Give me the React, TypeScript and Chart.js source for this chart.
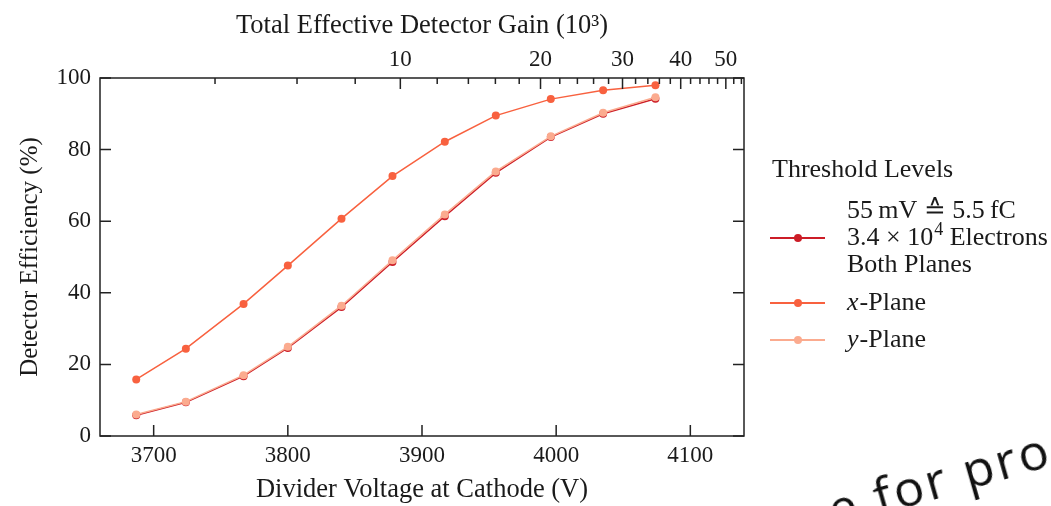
import React, { useEffect, useRef } from 'react';
import { Chart, registerables } from 'chart.js';

Chart.register(...registerables);

// ---- data ----
const voltages = [3687, 3724, 3767, 3800, 3840, 3878, 3917, 3955, 3996, 4035, 4074];
const bothPlanes = [5.8, 9.4, 16.7, 24.6, 36.0, 48.6, 61.4, 73.5, 83.5, 90.0, 94.2];
const xPlane = [15.8, 24.4, 36.9, 47.6, 60.7, 72.6, 82.2, 89.5, 94.1, 96.6, 98.0];
const yPlane = [6.0, 9.6, 17.0, 24.9, 36.4, 49.1, 61.9, 73.9, 83.7, 90.3, 94.6];

const voltageTicks = [3700, 3800, 3900, 4000, 4100];
const efficiencyTicks = [0, 20, 40, 60, 80, 100];
const gainMajorTicks = [10, 20, 30, 40, 50];
const gainMinorTicks = [4, 6, 8, 12, 14, 16, 18, 22, 24, 26, 28, 32, 34, 36, 38, 42, 44, 46, 48, 52, 54];

const seriesLabels = ['Both Planes', 'x-Plane', 'y-Plane'];
const colors = ['#cc1d27', '#f8613f', '#fbab8f'];

const FONT = "'Liberation Serif', 'DejaVu Serif', serif";
const INK = '#1a1a1a';

const framePlugin = {
  id: 'frameTicks',
  afterDatasetsDraw(chart: any) {
    const { ctx, chartArea } = chart;
    const { left, right, top, bottom } = chartArea;
    const xs = chart.scales.x;
    const ys = chart.scales.y;
    const gs = chart.scales.x2;
    const major = 11;
    const minor = 6;
    ctx.save();
    ctx.strokeStyle = '#222';
    ctx.lineWidth = 1.5;
    ctx.beginPath();
    voltageTicks.forEach((v) => {
      const px = xs.getPixelForValue(v);
      ctx.moveTo(px, bottom);
      ctx.lineTo(px, bottom - major);
    });
    efficiencyTicks.forEach((v) => {
      const py = ys.getPixelForValue(v);
      ctx.moveTo(left, py);
      ctx.lineTo(left + major, py);
      ctx.moveTo(right, py);
      ctx.lineTo(right - major, py);
    });
    gainMajorTicks.forEach((v) => {
      const px = gs.getPixelForValue(v);
      ctx.moveTo(px, top);
      ctx.lineTo(px, top + major);
    });
    gainMinorTicks.forEach((v) => {
      const px = gs.getPixelForValue(v);
      if (px > left && px < right) {
        ctx.moveTo(px, top);
        ctx.lineTo(px, top + minor);
      }
    });
    ctx.stroke();
    ctx.strokeRect(left, top, right - left, bottom - top);
    ctx.restore();
  },
};

const legendPlugin = {
  id: 'customLegend',
  afterDraw(chart: any) {
    const { ctx, chartArea } = chart;
    const x0 = chartArea.right + 26;
    const textX = x0 + 77;
    const size = 26;
    ctx.save();
    ctx.fillStyle = INK;
    ctx.textBaseline = 'middle';
    ctx.textAlign = 'left';
    ctx.font = `${size}px ${FONT}`;
    ctx.fillText('Threshold Levels', x0 + 2, 170);

    const sample = (y: number, color: string) => {
      ctx.strokeStyle = color;
      ctx.lineWidth = 2;
      ctx.beginPath();
      ctx.moveTo(x0, y);
      ctx.lineTo(x0 + 55, y);
      ctx.stroke();
      ctx.fillStyle = color;
      ctx.beginPath();
      ctx.arc(x0 + 28, y, 4, 0, Math.PI * 2);
      ctx.fill();
      ctx.fillStyle = INK;
    };

    // entry 1
    sample(238, colors[0]);
    ctx.font = `${size}px ${FONT}`;
    ctx.fillText('55\u2009mV \u2259 5.5\u2009fC', textX, 211);
    let tx = textX;
    const part1 = '3.4 \u00d7 10';
    ctx.fillText(part1, tx, 238);
    tx += ctx.measureText(part1).width;
    ctx.font = `${Math.round(size * 0.7)}px ${FONT}`;
    ctx.fillText('4', tx + 1, 230);
    tx += ctx.measureText('4').width + 1;
    ctx.font = `${size}px ${FONT}`;
    ctx.fillText(' Electrons', tx, 238);
    ctx.fillText(seriesLabels[0], textX, 265);

    // entry 2 & 3
    const rows: [number, string, string][] = [
      [303, 'x', '-Plane'],
      [340, 'y', '-Plane'],
    ];
    rows.forEach(([y, ital, rest], i) => {
      sample(y, colors[i + 1]);
      ctx.font = `italic ${size}px ${FONT}`;
      ctx.fillText(ital, textX, y);
      const w = ctx.measureText(ital).width;
      ctx.font = `${size}px ${FONT}`;
      ctx.fillText(rest, textX + w + 1, y);
    });
    ctx.restore();
  },
};

export default function App() {
  const canvasRef = useRef<HTMLCanvasElement | null>(null);

  useEffect(() => {
    if (!canvasRef.current) return;
    const mk = (data: number[]) => voltages.map((v, i) => ({ x: v, y: data[i] }));
    const ds = (label: string, data: number[], color: string, order: number) => ({
      label,
      data: mk(data),
      borderColor: color,
      backgroundColor: color,
      pointBackgroundColor: color,
      pointBorderColor: color,
      pointBorderWidth: 0,
      pointRadius: 4,
      borderWidth: 1.5,
      tension: 0,
      order,
      xAxisID: 'x',
      yAxisID: 'y',
    });
    const chart = new Chart(canvasRef.current, {
      type: 'line',
      data: {
        datasets: [
          ds(seriesLabels[0], bothPlanes, colors[0], 2),
          ds(seriesLabels[1], xPlane, colors[1], 1),
          ds(seriesLabels[2], yPlane, colors[2], 0),
        ],
      },
      options: {
        animation: false,
        responsive: false,
        devicePixelRatio: 1,
        layout: { padding: { left: 0, right: 307, top: 0, bottom: 0 } },
        plugins: { legend: { display: false }, tooltip: { enabled: false } },
        scales: {
          x: {
            type: 'linear',
            position: 'bottom',
            min: 3660,
            max: 4140,
            afterBuildTicks: (s: any) => {
              s.ticks = voltageTicks.map((v) => ({ value: v }));
            },
            afterFit: (s: any) => {
              s.height = 70;
            },
            grid: { display: false, drawTicks: false },
            border: { display: false },
            ticks: {
              autoSkip: false,
              maxRotation: 0,
              padding: 6,
              color: INK,
              font: { family: FONT, size: 23 },
              callback: (v: any) => String(v),
            },
            title: {
              display: true,
              text: 'Divider Voltage at Cathode (V)',
              color: INK,
              font: { family: FONT, size: 26.5 },
              padding: { top: 0, bottom: 0 },
            },
          },
          x2: {
            type: 'logarithmic',
            position: 'top',
            min: 2.265,
            max: 54.7,
            afterBuildTicks: (s: any) => {
              s.ticks = gainMajorTicks.map((v) => ({ value: v }));
            },
            afterFit: (s: any) => {
              s.height = 78;
            },
            grid: { display: false, drawTicks: false },
            border: { display: false },
            ticks: {
              autoSkip: false,
              maxRotation: 0,
              padding: 4,
              color: INK,
              font: { family: FONT, size: 23 },
              callback: (v: any) => String(v),
            },
            title: {
              display: true,
              text: 'Total Effective Detector Gain (10\u00b3)',
              color: INK,
              font: { family: FONT, size: 26.5 },
              padding: { top: 10, bottom: 0 },
            },
          },
          y: {
            type: 'linear',
            position: 'left',
            min: 0,
            max: 100,
            afterBuildTicks: (s: any) => {
              s.ticks = efficiencyTicks.map((v) => ({ value: v }));
            },
            afterFit: (s: any) => {
              s.width = 100;
            },
            grid: { display: false, drawTicks: false },
            border: { display: false },
            ticks: {
              autoSkip: false,
              padding: 9,
              color: INK,
              font: { family: FONT, size: 23 },
              callback: (v: any) => String(v),
            },
            title: {
              display: true,
              text: 'Detector Efficiency (%)',
              color: INK,
              font: { family: FONT, size: 25 },
              padding: { top: 15, bottom: 0 },
            },
          },
        },
      },
      plugins: [framePlugin, legendPlugin],
    } as any);
    return () => chart.destroy();
  }, []);

  return (
    <div
      style={{
        position: 'fixed',
        left: 0,
        top: 0,
        width: 1051,
        height: 506,
        overflow: 'hidden',
        background: '#fff',
      }}
    >
      <canvas ref={canvasRef} width={1051} height={506} style={{ display: 'block' }} />
      <span
        style={{
          position: 'absolute',
          left: 822,
          top: 486,
          fontFamily: "'Open Sans', sans-serif",
          fontSize: 50,
          letterSpacing: 3,
          color: '#111',
          whiteSpace: 'nowrap',
          transform: 'rotate(-16deg)',
          transformOrigin: 'left top',
          lineHeight: 1,
        }}
      >
        e for pro
      </span>
    </div>
  );
}
